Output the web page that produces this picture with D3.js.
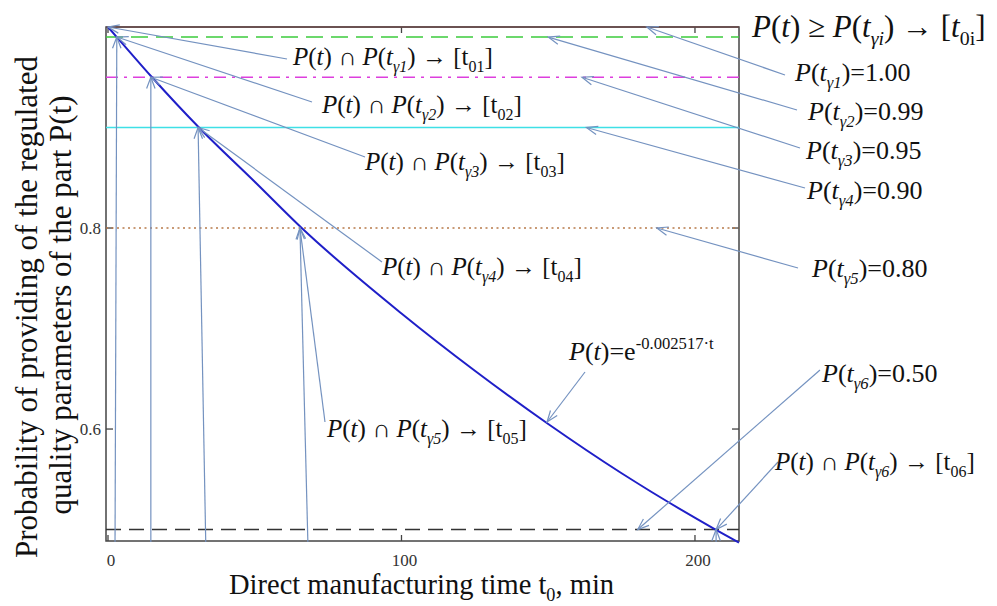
<!DOCTYPE html>
<html>
<head>
<meta charset="utf-8">
<script src="https://cdn.jsdelivr.net/npm/d3@7"></script>
<style>
  body { margin: 0; background: #fff; }
  svg, text, tspan { font-family: "Liberation Serif", "Times New Roman", serif; }
  text { fill: #111; white-space: pre; }
</style>
</head>
<body>
<svg font-family="Liberation Serif"></svg>
<script>
const width = 997
const height = 606

// reliability curve, points
const curveT = [0, 3, 15, 31, 50, 66, 100, 125, 150, 175, 207, 215]
const curveP = [1.0, 0.99, 0.95, 0.90, 0.846, 0.80, 0.715, 0.658, 0.605, 0.556, 0.50, 0.487]

// threshold levels P(t_gamma_i)
const levelIds = ['1', '2', '3', '4', '5', '6']
const levelP = [1.00, 0.99, 0.95, 0.90, 0.80, 0.50]
const crossT = [0, 3, 14.6, 30.7, 65.4, 207.2]      // where the curve meets each level
const footT = [null, 2.4, 14.6, 33.3, 68.1, 207.2]  // foot of the drop lines on the t axis
const levelTipT = [183.6, 150, 161.5, 163, 187, 180.5] // where the level labels point

const xTicks = [0, 100, 200]
const yTicks = [0.6, 0.8]
const xLabel = 'Direct manufacturing time t'
const yLabel1 = 'Probability of providing of the regulated'
const yLabel2 = 'quality parameters of the part P(t)'

// layout (px)
const levelStyle = [
  { stroke: '#6a4848', dash: null, w: 1.5 },
  { stroke: '#3ccc3c', dash: '17 8', w: 1.6 },
  { stroke: '#dd3fdd', dash: '12 6 3 6', w: 1.6 },
  { stroke: '#3fe0e6', dash: null, w: 1.6 },
  { stroke: '#b87a4a', dash: '2 3.5', w: 1.6 },
  { stroke: '#333', dash: '15 8', w: 1.5 }
]
const levelLabelPos = [[795, 81], [808, 120], [806, 159], [807, 199], [812, 277], [822, 382]]
const levelLeaderFrom = [[785, 75], [797, 110], [800, 148], [805, 188], [798, 268], [820, 370]]
const capLabelPos = [[293, 65], [322, 113], [365, 170], [382, 275], [327, 437], [775, 470]]
const capLeaderFrom = [[287, 59], [312, 102], [365, 157], [382, 262], [325, 422], [778, 462]]
const leader = '#7492c0'
const serif = '"Liberation Serif", "Times New Roman", serif'

const svg = d3.select('svg').attr('width', width).attr('height', height)

const x = d3.scaleLinear().domain([-0.68, 215]).range([106, 739])
const y = d3.scaleLinear().domain([0.4886, 1.0]).range([541, 27])

// frame
svg.append('rect')
  .attr('x', x.range()[0]).attr('y', y.range()[1])
  .attr('width', x.range()[1] - x.range()[0]).attr('height', y.range()[0] - y.range()[1])
  .attr('fill', 'none').attr('stroke', '#444').attr('stroke-width', 1.5)

// inward ticks on all four sides
const axisG = svg.append('g').attr('stroke', '#444').attr('stroke-width', 1.3)
xTicks.forEach(t => {
  axisG.append('line').attr('x1', x(t)).attr('x2', x(t)).attr('y1', y.range()[0]).attr('y2', y.range()[0] - 6)
  axisG.append('line').attr('x1', x(t)).attr('x2', x(t)).attr('y1', y.range()[1]).attr('y2', y.range()[1] + 6)
})
yTicks.forEach(p => {
  axisG.append('line').attr('y1', y(p)).attr('y2', y(p)).attr('x1', x.range()[0]).attr('x2', x.range()[0] + 7)
  axisG.append('line').attr('y1', y(p)).attr('y2', y(p)).attr('x1', x.range()[1]).attr('x2', x.range()[1] - 7)
})
svg.selectAll('.xt').data(xTicks).enter().append('text')
  .attr('x', d => x(d) + 3).attr('y', 566).attr('text-anchor', 'middle')
  .attr('font-family', serif).attr('font-size', 17).style('fill', '#333').text(d => d)
svg.selectAll('.yt').data(yTicks).enter().append('text')
  .attr('x', 101).attr('y', d => y(d) + 6).attr('text-anchor', 'end')
  .attr('font-family', serif).attr('font-size', 17).style('fill', '#333').text(d => d.toFixed(1))

// threshold levels
levelP.forEach((p, i) => {
  svg.append('line')
    .attr('x1', x.range()[0]).attr('x2', x.range()[1])
    .attr('y1', y(p)).attr('y2', y(p))
    .attr('stroke', levelStyle[i].stroke).attr('stroke-width', levelStyle[i].w)
    .attr('stroke-dasharray', levelStyle[i].dash)
})

// curve
const line = d3.line().x(d => x(d[0])).y(d => y(d[1])).curve(d3.curveMonotoneX)
svg.append('path')
  .datum(curveT.map((t, i) => [t, curveP[i]]))
  .attr('d', line).attr('fill', 'none').attr('stroke', '#1f1fc8').attr('stroke-width', 2)

function arrow(x1, y1, x2, y2) {
  const a = Math.atan2(y2 - y1, x2 - x1), L = 12, w = 0.36
  svg.append('line').attr('x1', x1).attr('y1', y1).attr('x2', x2).attr('y2', y2)
    .attr('stroke', leader).attr('stroke-width', 1.2)
  svg.append('path')
    .attr('d', `M${x2 - L * Math.cos(a - w)},${y2 - L * Math.sin(a - w)}L${x2},${y2}L${x2 - L * Math.cos(a + w)},${y2 - L * Math.sin(a + w)}`)
    .attr('fill', 'none').attr('stroke', leader).attr('stroke-width', 1.2)
}

// drop lines from the t axis up to each intersection
footT.forEach((t, i) => {
  if (t === null) return
  arrow(x(t), y.range()[0] + 1, x(crossT[i]), y(levelP[i]))
})

// leaders
levelP.forEach((p, i) => {
  arrow(capLeaderFrom[i][0], capLeaderFrom[i][1], x(crossT[i]), y(p))
  arrow(levelLeaderFrom[i][0], levelLeaderFrom[i][1], x(levelTipT[i]), y(p))
})
arrow(585, 372, x(149.6), y(0.607))

function rich(px, py, size, parts) {
  const t = svg.append('text').attr('x', px).attr('y', py)
    .attr('font-family', serif).attr('font-size', size)
  let shift = 0
  parts.forEach(([s, k]) => {
    const sub = k.startsWith('sub'), sup = k === 'sup'
    const target = sub ? size * 0.26 : sup ? -size * 0.42 : 0
    t.append('tspan')
      .attr('dy', target - shift)
      .attr('font-size', sub || sup ? size * 0.64 : size)
      .attr('font-style', k === 'i' || k === 'subi' ? 'italic' : 'normal')
      .text(s)
    shift = target
  })
  return t
}

const capParts = k => [['P', 'i'], ['(', 'r'], ['t', 'i'], [') ∩ ', 'r'], ['P', 'i'], ['(', 'r'], ['t', 'i'],
  ['γ' + k, 'subi'], [') → [', 'r'], ['t', 'r'], ['0' + k, 'subr'], [']', 'r']]
const levelParts = (k, v) => [['P', 'i'], ['(', 'r'], ['t', 'i'], ['γ' + k, 'subi'], [')=' + v.toFixed(2), 'r']]

levelIds.forEach((k, i) => {
  rich(capLabelPos[i][0], capLabelPos[i][1], 25, capParts(k))
  rich(levelLabelPos[i][0], levelLabelPos[i][1], 26, levelParts(k, levelP[i]))
})

rich(752, 37, 31, [['P', 'i'], ['(', 'r'], ['t', 'i'], [') ≥ ', 'r'], ['P', 'i'], ['(', 'r'], ['t', 'i'],
  ['γi', 'subi'], [') → [', 'r'], ['t', 'i'], ['0i', 'subr'], [']', 'r']])
rich(569, 360, 26, [['P', 'i'], ['(', 'r'], ['t', 'i'], [')=e', 'r'], ['-0.002517·t', 'sup']])

// axis titles
rich(229, 594, 28.5, [[xLabel, 'r'], ['0', 'subr'], [', min', 'r']])
svg.append('text').attr('transform', 'translate(37,307) rotate(-90)')
  .attr('text-anchor', 'middle').attr('font-family', serif).attr('font-size', 31).text(yLabel1)
svg.append('text').attr('transform', 'translate(71,305) rotate(-90)')
  .attr('text-anchor', 'middle').attr('font-family', serif).attr('font-size', 31).text(yLabel2)
</script>
</body>
</html>
